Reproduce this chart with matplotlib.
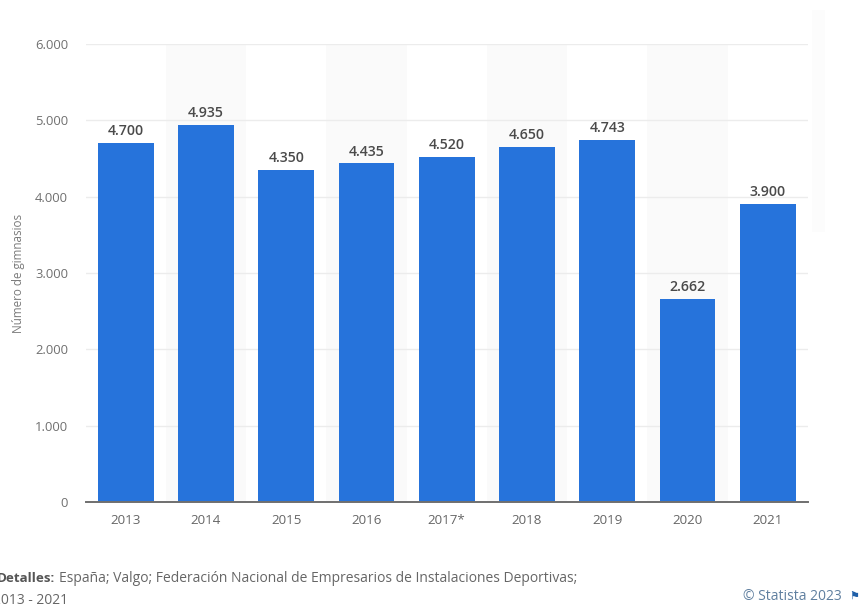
import matplotlib
matplotlib.use("Agg")
import matplotlib.pyplot as plt
from matplotlib.patches import Rectangle

years = ["2013", "2014", "2015", "2016", "2017*", "2018", "2019", "2020", "2021"]
gyms = [4700, 4935, 4350, 4435, 4520, 4650, 4743, 2662, 3900]
value_labels = ["4.700", "4.935", "4.350", "4.435", "4.520", "4.650", "4.743", "2.662", "3.900"]
y_ticks = [0, 1000, 2000, 3000, 4000, 5000, 6000]
y_tick_labels = ["0", "1.000", "2.000", "3.000", "4.000", "5.000", "6.000"]

W, H = 860, 606
plt.rcParams["font.family"] = ["Open Sans", "DejaVu Sans"]

fig = plt.figure(figsize=(W / 100, H / 100), dpi=100, facecolor="white")
ax = fig.add_axes([85.5 / W, 1 - 502 / H, (808 - 85.5) / W, (502 - 44) / H])
ax.set_xlim(-0.5, len(years) - 0.5)
ax.set_ylim(0, 6000)

# Faint strip down the right-hand edge of the page
fig.add_artist(Rectangle((812 / W, 1 - 232 / H), 13 / W, 222 / H,
                         transform=fig.transFigure, facecolor="#fcfcfc",
                         edgecolor="none", zorder=0))

# Alternating column bands behind the bars
for i in range(1, len(years), 2):
    ax.axvspan(i - 0.5, i + 0.5, facecolor="#fafafa", edgecolor="none", zorder=0)

ax.set_axisbelow(True)
ax.grid(axis="y", color="#ececec", linewidth=1)
ax.grid(axis="x", visible=False)

ax.bar(range(len(years)), gyms, width=0.695, color="#2673db", zorder=3)

for i, (v, lab) in enumerate(zip(gyms, value_labels)):
    ax.annotate(lab, (i, v), xytext=(0, 3.5), textcoords="offset points", ha="center",
                va="bottom", fontsize=10.2, color="#4a4a4a", fontweight="semibold")

for side in ("top", "left", "right"):
    ax.spines[side].set_visible(False)
ax.spines["bottom"].set_color("#6f6f6f")
ax.spines["bottom"].set_linewidth(1.4)
ax.spines["bottom"].set_zorder(4)

ax.set_xticks(range(len(years)), years)
ax.set_yticks(y_ticks, y_tick_labels)
ax.tick_params(axis="x", length=0, pad=9, labelsize=9.6, labelcolor="#666666")
ax.tick_params(axis="y", length=0, pad=12.6, labelsize=9.4, labelcolor="#707070")

fig.text(19 / W, 1 - 273 / H, "Número de gimnasios", rotation=90, ha="center", va="center",
         fontsize=8.4, color="#7a7a7a")

fig.text(-3 / W, 1 - 578 / H, "Detalles:", ha="left", va="center",
         fontsize=9.6, color="#555555", fontweight="bold")
fig.text(59 / W, 1 - 578 / H,
         "España; Valgo; Federación Nacional de Empresarios de Instalaciones Deportivas;",
         ha="left", va="center", fontsize=10, color="#666666")
fig.text(-7 / W, 1 - 601 / H, "2013 - 2021", ha="left", va="center",
         fontsize=10, color="#666666")
fig.text(842 / W, 1 - 596 / H, "© Statista 2023", ha="right", va="center",
         fontsize=10, color="#5f7f9f")
fig.text(854 / W, 1 - 596 / H, "⚑", ha="center", va="center", fontsize=8, color="#1f5fa8")

fig.savefig("out.png", dpi=100, facecolor="white")
